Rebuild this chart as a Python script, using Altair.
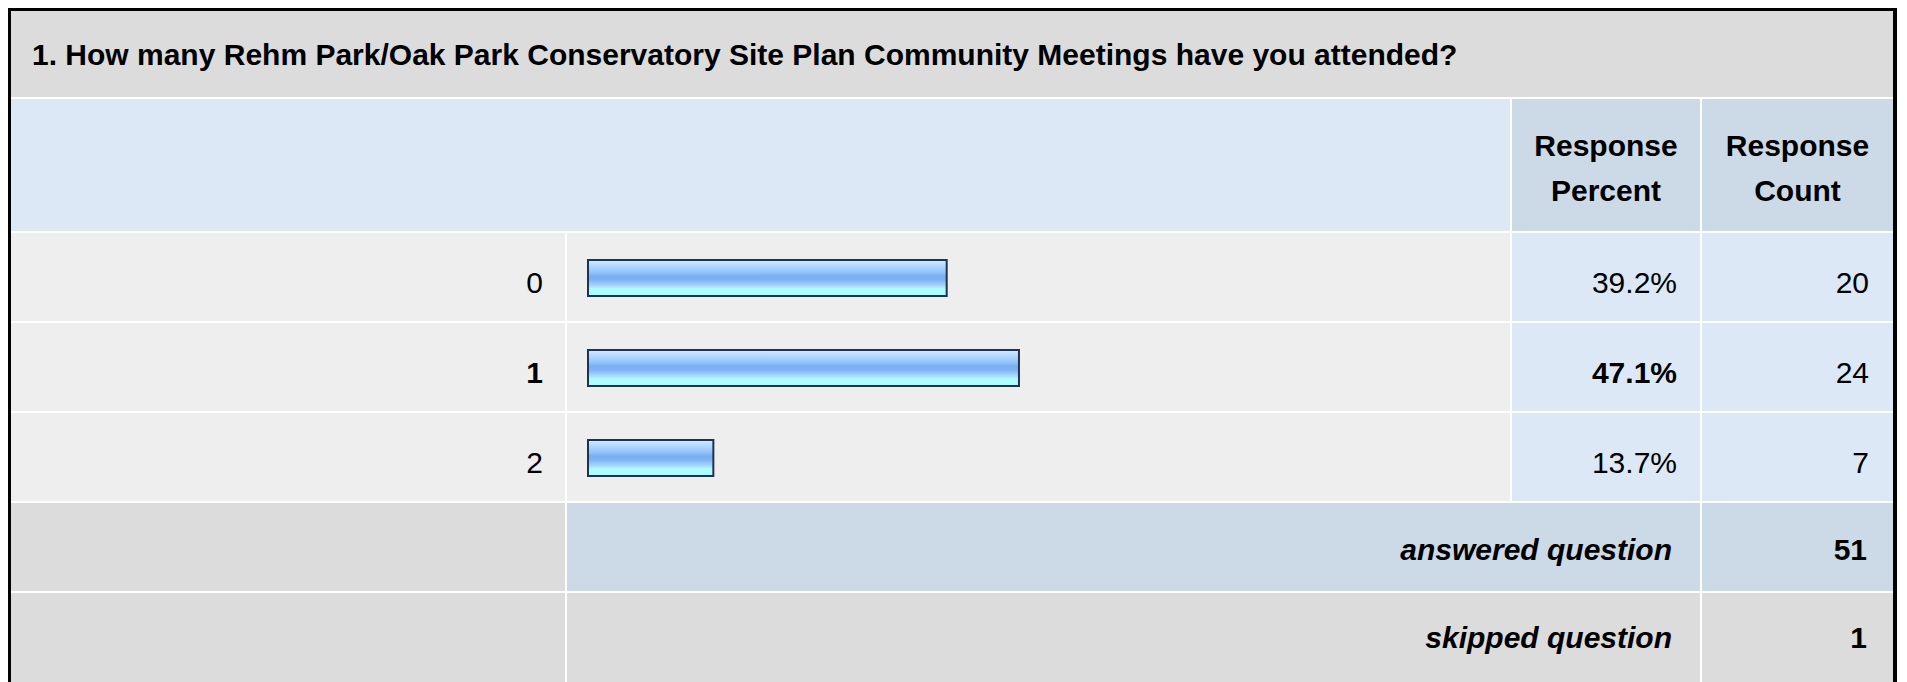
import altair as alt
import pandas as pd

# ---------------- data ----------------
title_text = "1. How many Rehm Park/Oak Park Conservatory Site Plan Community Meetings have you attended?"
header_percent = ["Response", "Percent"]
header_count = ["Response", "Count"]
answers = ["0", "1", "2"]
percents = [39.2, 47.1, 13.7]
counts = [20, 24, 7]
summary_labels = ["answered question", "skipped question"]
summary_values = [51, 1]

# ---------------- layout (page pixel coordinates) ----------------
OFF = 8          # page margin
W, H = 1891, 674
FONT = "Liberation Sans"
FS = 30

GRAY_T = "#DCDCDC"
ROW_GRAY = "#EEEEEE"
BLUE_L = "#DCE8F5"
BLUE_D = "#CCD9E6"

# column edges
cL0, cL1 = 11, 565
cB0, cB1 = 567, 1510
cP0, cP1 = 1512, 1700
cC0, cC1 = 1702, 1893
# row edges
rT = (11, 97)
rH = (99, 231)
rows = [(233, 321), (323, 411), (413, 501)]
rA = (503, 591)
rS = (593, 690)

cells = []
def cell(x0, x1, y, fill):
    cells.append(dict(x0=x0 - OFF, x1=x1 - OFF, y0=y[0] - OFF, y1=y[1] - OFF, fill=fill))

# outer border and white grid
cells.append(dict(x0=0, x1=1897 - OFF, y0=0, y1=H + 10, fill="#000000"))
cells.append(dict(x0=3, x1=1893 - OFF, y0=3, y1=H + 10, fill="#FFFFFF"))
cell(cL0, cC1, rT, GRAY_T)
cell(cL0, cB1, rH, BLUE_L)
cell(cP0, cP1, rH, BLUE_D)
cell(cC0, cC1, rH, BLUE_D)
for r in rows:
    cell(cL0, cL1, r, ROW_GRAY)
    cell(cB0, cB1, r, ROW_GRAY)
    cell(cP0, cP1, r, BLUE_L)
    cell(cC0, cC1, r, BLUE_L)
cell(cL0, cL1, rA, GRAY_T)
cell(cB0, cP1, rA, BLUE_D)
cell(cC0, cC1, rA, BLUE_D)
cell(cL0, cL1, rS, GRAY_T)
cell(cB0, cP1, rS, GRAY_T)
cell(cC0, cC1, rS, GRAY_T)
cells_df = pd.DataFrame(cells)

bg = alt.Chart(cells_df).mark_rect().encode(
    x=alt.X("x0:Q", scale=None, axis=None),
    x2="x1:Q",
    y=alt.Y("y0:Q", scale=None, axis=None),
    y2="y1:Q",
    color=alt.Color("fill:N", scale=None),
)

# ---------------- data rows ----------------
df = pd.DataFrame({"answer": answers, "pct": percents, "count": counts})
df["pct_label"] = [f"{p:.1f}%" for p in percents]
df["count_label"] = [str(c) for c in counts]
max_pct = max(percents)
df["is_max"] = [p == max_pct for p in percents]

yscale = alt.Scale(domain=answers, range=[rows[0][0] - OFF, rows[-1][0] + 90 - OFF],
                   paddingInner=0.6, paddingOuter=0.3)
bar_x0 = 588 - OFF
xscale = alt.Scale(domain=[0, 100], range=[bar_x0, bar_x0 + 915])

grad = alt.LinearGradient(
    gradient="linear", x1=0, x2=0, y1=0, y2=1,
    stops=[
        alt.GradientStop(color="#d8ecff", offset=0.0),
        alt.GradientStop(color="#c0e0ff", offset=0.1),
        alt.GradientStop(color="#a8d2ff", offset=0.22),
        alt.GradientStop(color="#92c2fa", offset=0.35),
        alt.GradientStop(color="#7aaef2", offset=0.45),
        alt.GradientStop(color="#7eb2f2", offset=0.55),
        alt.GradientStop(color="#98c8fb", offset=0.65),
        alt.GradientStop(color="#acdfff", offset=0.74),
        alt.GradientStop(color="#aefcff", offset=0.8),
        alt.GradientStop(color="#aaffff", offset=1.0),
    ],
)

bars = alt.Chart(df).mark_bar(color=grad, stroke="#1c3352", strokeWidth=2).encode(
    x=alt.X("pct:Q", scale=xscale, axis=None),
    x2=alt.value(bar_x0),
    y=alt.Y("answer:N", scale=yscale, axis=None),
)

def row_text(field, xpix, bold):
    base = alt.Chart(df).transform_filter(
        alt.datum.is_max if bold else ~alt.datum.is_max
    )
    return base.mark_text(
        font=FONT, fontSize=FS, align="right", baseline="alphabetic", dy=15,
        fontWeight="bold" if bold else "normal", color="#000000",
    ).encode(
        x=alt.value(xpix - OFF),
        y=alt.Y("answer:N", scale=yscale, axis=None),
        text=f"{field}:N",
    )

count_all = alt.Chart(df).mark_text(
    font=FONT, fontSize=FS, align="right", baseline="alphabetic", dy=15, color="#000000"
).encode(
    x=alt.value(1869 - OFF),
    y=alt.Y("answer:N", scale=yscale, axis=None),
    text="count_label:N",
)
texts = [
    row_text("answer", 543, False), row_text("answer", 543, True),
    row_text("pct_label", 1677, False), row_text("pct_label", 1677, True),
    count_all,
]

# ---------------- title & header ----------------
title_df = pd.DataFrame({"t": [title_text]})
title = alt.Chart(title_df).mark_text(
    font=FONT, fontSize=FS, fontWeight="bold", align="left", baseline="alphabetic", color="#000000"
).encode(x=alt.value(32 - OFF), y=alt.value(65 - OFF), text="t:N")

hdr_df = pd.DataFrame({
    "t": header_percent + header_count,
    "cx": [(cP0 + cP1) / 2 - OFF] * 2 + [(cC0 + cC1) / 2 - OFF] * 2,
    "by": [156 - OFF, 201 - OFF] * 2,
})
header = alt.Chart(hdr_df).mark_text(
    font=FONT, fontSize=FS, fontWeight="bold", align="center", baseline="alphabetic", color="#000000"
).encode(x=alt.X("cx:Q", scale=None, axis=None), y=alt.Y("by:Q", scale=None, axis=None), text="t:N")

# ---------------- summary rows ----------------
sum_df = pd.DataFrame({
    "label": summary_labels,
    "value": [str(v) for v in summary_values],
    "by": [560 - OFF, 648 - OFF],
})
sum_labels = alt.Chart(sum_df).mark_text(
    font=FONT, fontSize=FS, fontWeight="bold", fontStyle="italic", align="right",
    baseline="alphabetic", color="#000000"
).encode(x=alt.value(1672 - OFF), y=alt.Y("by:Q", scale=None, axis=None), text="label:N")
sum_vals = alt.Chart(sum_df).mark_text(
    font=FONT, fontSize=FS, fontWeight="bold", align="right", baseline="alphabetic", color="#000000"
).encode(x=alt.value(1867 - OFF), y=alt.Y("by:Q", scale=None, axis=None), text="value:N")

chart = alt.layer(bg, bars, *texts, title, header, sum_labels, sum_vals).resolve_scale(
    x="independent", y="independent", color="independent"
).properties(
    width=W, height=H, padding=0, autosize=alt.AutoSizeParams(type="none"),
    background="#FFFFFF",
).configure_view(stroke=None)

chart.save("out.html", embed_options={"renderer": "svg", "actions": False})
